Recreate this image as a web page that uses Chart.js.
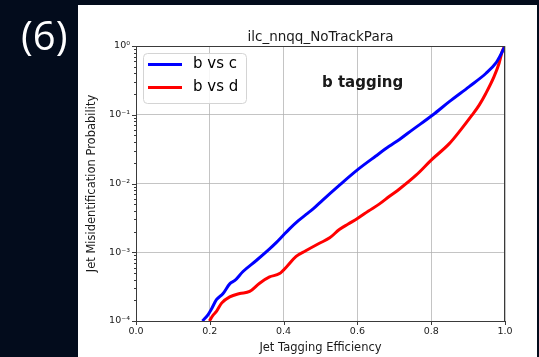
<!DOCTYPE html>
<html>
<head>
<meta charset="utf-8">
<script src="https://cdn.jsdelivr.net/npm/chart.js@4"></script>
<style>
    html, body { margin: 0; padding: 0; background: #030c1c; }
    #wrap { position: relative; width: 539px; height: 357px; }
</style>
</head>
<body>
<div id="wrap"><canvas id="chartRoc" width="539" height="357"></canvas></div>
<script>
// ── Data ──────────────────────────────────────────────────────
const seriesNames = ['b vs c', 'b vs d'];

const effBC = [0.18, 0.195, 0.205, 0.218, 0.236, 0.254, 0.268, 0.29, 0.326, 0.362,
    0.38, 0.398, 0.416, 0.44, 0.461, 0.48, 0.506, 0.55, 0.60, 0.65,
    0.686, 0.714, 0.749, 0.805, 0.849, 0.903, 0.948, 0.975, 0.988, 1.0];
const misBC = [1.0e-4, 1.23e-4, 1.51e-4, 2.04e-4, 2.51e-4, 3.47e-4, 3.89e-4, 5.25e-4, 7.59e-4, 1.12e-3,
    1.38e-3, 1.74e-3, 2.19e-3, 2.88e-3, 3.55e-3, 4.27e-3, 5.75e-3, 9.33e-3, 1.58e-2, 2.51e-2,
    3.47e-2, 4.37e-2, 6.03e-2, 0.100, 0.155, 0.257, 0.398, 0.562, 0.741, 1.0];

const effBD = [0.199, 0.208, 0.218, 0.232, 0.254, 0.281, 0.308, 0.335, 0.362, 0.389,
    0.41, 0.434, 0.46, 0.497, 0.525, 0.551, 0.575, 0.60, 0.63, 0.659,
    0.686, 0.714, 0.759, 0.80, 0.849, 0.88, 0.91, 0.93, 0.948, 0.97,
    0.984, 0.993, 1.0];
const misBD = [1.0e-4, 1.20e-4, 1.38e-4, 1.82e-4, 2.24e-4, 2.51e-4, 2.69e-4, 3.55e-4, 4.37e-4, 4.90e-4,
    6.31e-4, 8.71e-4, 1.05e-3, 1.35e-3, 1.62e-3, 2.14e-3, 2.57e-3, 3.09e-3, 3.98e-3, 5.01e-3,
    6.46e-3, 8.32e-3, 1.32e-2, 2.19e-2, 3.80e-2, 6.03e-2, 9.77e-2, 0.138, 0.204, 0.355,
    0.562, 0.851, 1.0];

const xTicks   = [0.0, 0.2, 0.4, 0.6, 0.8, 1.0];
const yDecades = [-4, -3, -2, -1, 0];
const supers   = { '-': '⁻', '0': '⁰', '1': '¹', '2': '²', '3': '³', '4': '⁴' };

const C = {
    blue:  '#0000ff',
    red:   '#ff0000',
    grid:  'rgba(176,176,176,.75)',
    spine: '#3a3a3a',
    text:  '#1a1a1a',
    navy:  '#030c1c',
};
const FONT = "'DejaVu Sans', sans-serif";

Chart.defaults.font.family = FONT;
Chart.defaults.color = C.text;

function toPoints(xs, ys) { return xs.map((x, i) => ({ x, y: ys[i] })); }
function pow10Label(e) { return '10' + String(e).split('').map(ch => supers[ch]).join(''); }
function isDecade(v) { return Math.abs(Math.log10(v) - Math.round(Math.log10(v))) < 1e-9; }

// ── Decorations: background panel, title, spines, minor ticks, legend ──
const decor = {
    id: 'decor',
    beforeDraw(chart) {
        const { ctx, width, height } = chart;
        ctx.save();
        ctx.fillStyle = C.navy;
        ctx.fillRect(0, 0, width, height);
        ctx.fillStyle = '#fff';
        ctx.fillRect(78, 5, 459, height - 5);
        ctx.font = "40px 'Open Sans', sans-serif";
        ctx.textBaseline = 'middle';
        ctx.fillText('(6)', 21, 39);
        ctx.restore();
    },
    afterDraw(chart) {
        const { ctx, chartArea: a, scales: { x, y } } = chart;
        ctx.save();
        // spines
        ctx.strokeStyle = C.spine;
        ctx.lineWidth = 1;
        ctx.strokeRect(a.left + .5, a.top + .5, a.right - a.left - 1, a.bottom - a.top);

        // tick marks (major + log minor)
        ctx.beginPath();
        y.ticks.forEach(t => {
            const py = Math.round(y.getPixelForValue(t.value)) + .5;
            const len = isDecade(t.value) ? 4 : 2;
            ctx.moveTo(a.left - len, py); ctx.lineTo(a.left, py);
        });
        xTicks.forEach(v => {
            const px = Math.round(x.getPixelForValue(v)) + .5;
            ctx.moveTo(px, a.bottom); ctx.lineTo(px, a.bottom + 4);
        });
        ctx.stroke();

        // title
        ctx.fillStyle = C.text;
        ctx.font = `13.5px ${FONT}`;
        ctx.textAlign = 'center';
        ctx.textBaseline = 'alphabetic';
        ctx.fillText('ilc_nnqq_NoTrackPara', (a.left + a.right) / 2, 41);

        // annotation
        ctx.font = `bold 15px ${FONT}`;
        ctx.textBaseline = 'middle';
        ctx.fillText('b tagging', x.getPixelForValue(0.614), y.getPixelForValue(0.29));

        // legend
        const lx = a.left + 7, ly = a.top + 7, lw = 103, lh = 50;
        ctx.beginPath();
        ctx.roundRect(lx + .5, ly + .5, lw, lh, 4);
        ctx.fillStyle = 'rgba(255,255,255,.85)';
        ctx.fill();
        ctx.strokeStyle = '#d4d4d4';
        ctx.stroke();
        ctx.font = `15px ${FONT}`;
        ctx.textAlign = 'left';
        chart.data.datasets.forEach((ds, i) => {
            const ry = ly + 11.5 + i * 23;
            ctx.strokeStyle = ds.borderColor;
            ctx.lineWidth = 3;
            ctx.beginPath();
            ctx.moveTo(lx + 5, ry); ctx.lineTo(lx + 39, ry);
            ctx.stroke();
            ctx.fillStyle = '#000';
            ctx.fillText(ds.label, lx + 50, ry);
        });
        ctx.restore();
    }
};

new Chart(document.getElementById('chartRoc'), {
    type: 'line',
    data: {
        datasets: [
            { label: seriesNames[0], data: toPoints(effBC, misBC),
              borderColor: C.blue, borderWidth: 3, pointRadius: 0,
              cubicInterpolationMode: 'monotone' },
            { label: seriesNames[1], data: toPoints(effBD, misBD),
              borderColor: C.red, borderWidth: 3, pointRadius: 0,
              cubicInterpolationMode: 'monotone' },
        ]
    },
    options: {
        responsive: false, animation: false,
        layout: { padding: { left: 80, top: 46, right: 34, bottom: 0 } },
        plugins: { legend: { display: false }, tooltip: { enabled: false } },
        scales: {
            x: {
                type: 'linear', min: 0, max: 1,
                afterBuildTicks: s => { s.ticks = xTicks.map(v => ({ value: v })); },
                afterFit: s => { s.height = 36; },
                grid: { color: C.grid, lineWidth: 1, drawTicks: false },
                border: { display: false },
                ticks: { padding: 5, font: { size: 9.5 }, color: C.text,
                         callback: v => v.toFixed(1) },
                title: { display: true, text: 'Jet Tagging Efficiency',
                         font: { size: 11.5 }, color: C.text, padding: { bottom: 2 } },
            },
            y: {
                type: 'logarithmic', min: 1e-4, max: 1,
                afterBuildTicks: s => {
                    const t = [];
                    yDecades.forEach(e => {
                        for (let m = 1; m <= 9; m++) {
                            const v = m * Math.pow(10, e);
                            if (v <= 1.0000001) t.push({ value: v });
                        }
                    });
                    s.ticks = t;
                },
                afterFit: s => { s.width = 56; },
                grid: { color: c => isDecade(c.tick.value) ? C.grid : 'transparent',
                        lineWidth: 1, drawTicks: false },
                border: { display: false },
                ticks: { autoSkip: false, padding: 6, font: { size: 9.5 }, color: C.text,
                         callback: v => isDecade(v) ? pow10Label(Math.round(Math.log10(v))) : '' },
                title: { display: true, text: 'Jet Misidentification Probability',
                         font: { size: 11.5 }, color: C.text, padding: { top: 5 } },
            }
        }
    },
    plugins: [decor]
});
</script>
</body>
</html>
